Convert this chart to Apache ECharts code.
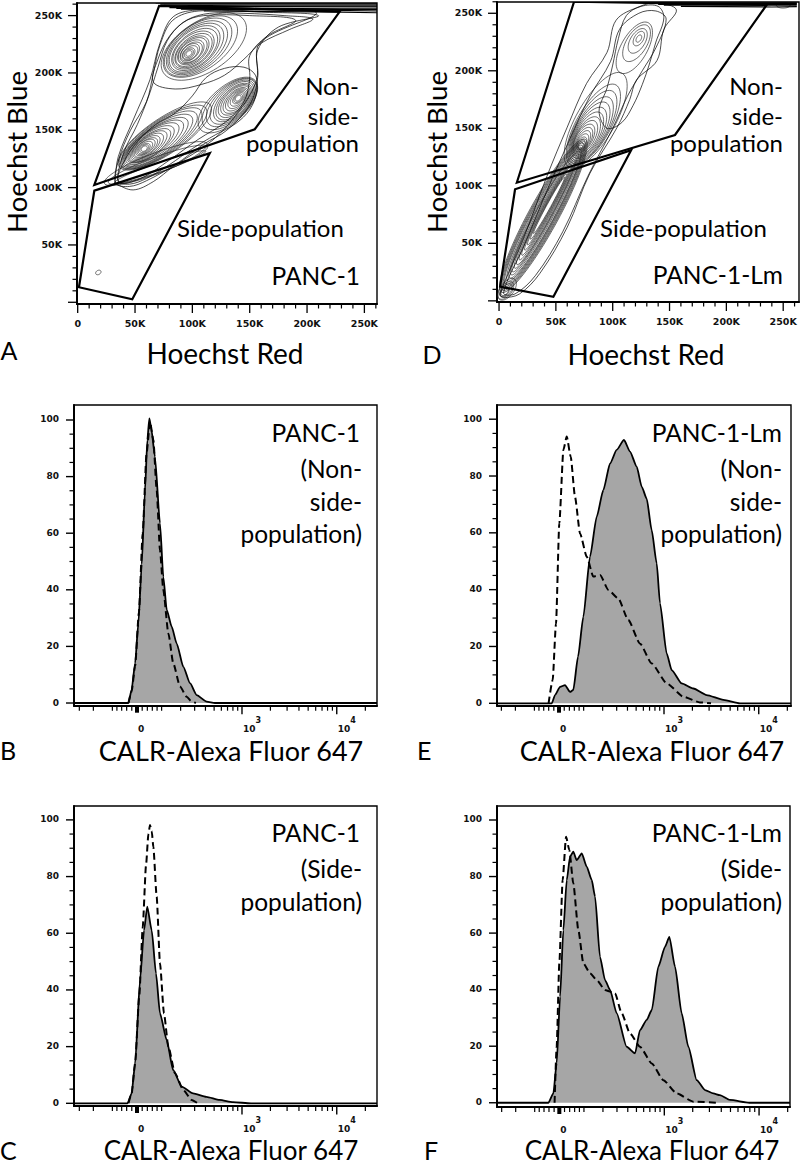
<!DOCTYPE html>
<html><head><meta charset="utf-8">
<script src="https://cdn.jsdelivr.net/npm/echarts@6/dist/echarts.min.js"></script>
<style>html,body{margin:0;padding:0;background:#fff}#c{width:800px;height:1166px}
#c svg text{font-variant-ligatures:none;font-feature-settings:"liga" 0,"clig" 0}</style>
</head><body><div id="c"></div>
<script>
// ================= DATA =================
// Hoechst axes (values in thousands)
const hoechstMajorK = [0, 50, 100, 150, 200, 250];
const hoechstMinorK = [10,20,30,40,60,70,80,90,110,120,130,140,160,170,180,190,210,220,230,240,260];
const hoechstXLabels = ['0','50K','100K','150K','200K','250K'];
const hoechstYLabels = ['','50K','100K','150K','200K','250K'];

// Histogram axes
const pctMajor = [0,20,40,60,80,100];
const pctMinor = [5,10,15,25,30,35,45,50,55,65,70,75,85,90,95];
const pctLabels = ['0','20','40','60','80','100'];
const calrMajorRaw = [0,1000,10000];
const calrLabelBase = ['0','10','10'];
const calrLabelExp = ['','3','4'];
const calrMinorRaw = [-300,-200,-100,-80,-60,-40,-20,20,40,60,80,100,200,300,400,500,600,700,800,900,
  2000,3000,4000,5000,6000,7000,8000,9000,20000];

// Gates (Hoechst Red K, Hoechst Blue K)
const gateNonSP_A = [[14.5,102.3],[71,258.4],[228.5,253.5],[154.4,150.9]];
const gateSP_A    = [[14.5,97.3],[1.1,13.1],[47.6,2.6],[115.2,130]];
const gateNonSP_D = [[15.6,102.7],[66,260],[235.4,257.2],[154.8,144.2]];
const gateSP_D    = [[14.1,97],[0.9,12.3],[47.8,3.6],[116.2,131]];

// Contour rings: [centre Red K, centre Blue K, semi-major K, semi-minor K, angle deg]
const ringsA = [
 // upper population
 [97,217,3,2,40],[97,217,4.5,3,40],[97,217,6,4,40],[98,217.5,7.8,5,40],[98,218,9.5,6,40],[99,218,11.2,7,40],
 [99,218.5,13,8,40],[100,219,15,9,40],[100,219,17,10,40],[101,219.5,19,11.2,40],[101,220,21,12.5,40],
 [102,220.5,23.5,13.7,40],[102,221,26,15,40],[103,221.5,28.5,16.2,39],[104,222,31,17.5,38],
 [105,222.5,34,18.8,37],[107,223,37,20,35],[110,223,42,22,33],
 // middle population
 [140,178,3,2,45],[140,178,4.5,2.8,45],[140,178,6,3.5,45],[139.5,177.5,8,4.5,45],[139,177,10,5.5,45],
 [138.5,176.5,12,6.5,45],[138,176,14,7.5,45],[137.5,176,16,8.5,45],[137,175.5,18,9.5,45],
 [136.5,175,20,10.5,45],[136,175,22,11.5,45],[135,174.5,24.5,12.5,44],[134,174,27,13.5,43],
 [132.5,173,29.5,14.5,42],[131,172,32,15.5,42],
 // lower population
 [58,134,3,2,37],[58,134,4.5,2.7,37],[58,134,6,3.5,37],[58.5,134.5,8,4.2,37],[59,135,10,5,37],
 [59.5,135,12,5.7,37],[60,135.5,14,6.5,37],[61,136,16.5,7.2,37],[62,136.5,19,8,37],[63,137,21.5,8.8,36],
 [64,138,24,9.5,36],[65.5,139,27,10.2,35],[67,139.5,30,11,35],[68.5,140,33,11.8,35],[70,141,36,12.5,35],
 [71.5,142,39,13.3,35],[73,143,42,14,35],[74.5,144,45,14.8,34],[76,145,48,15.5,34],
 [72,118,42,4,19],[70,120,46,7,20],[68,121,48,9,21],
 // isolated event
 [18,26,2.5,1.8,30]
];
const ringsD = [
 // lower band
 [39,74,76,13,61],[39,74,74,12.2,61],[39,74,72,11.5,61],[39,74,70,10.7,61],[39,74,68,10,61],
 [39.5,74.5,65.5,9.2,61],[40,75,63,8.5,61],[40,75.5,60.5,7.7,61],[40,76,58,7,61],[40.5,76.5,55,6.2,61],
 [41,77,52,5.5,61],[41.5,78,48.5,4.7,61],[42,79,45,4,61],[42.5,80,41,3.4,61],[43,81,37,2.8,61],
 [43.5,82,32.5,2.3,61],[44,83,28,1.8,61],
 [5,8,4,2.5,45],[5,8,5,3,45],[6,9,7,4,48],[6,9,9,5,50],[7,10,11,6,52],
 // middle population
 [72,135,3,1.8,60],[72.5,136,4.5,2.6,60],[73,137,6,3.5,60],[73.5,138,8,4.2,60],[74,139,10,5,60],
 [74.5,140,12,6,60],[75,141,14,7,60],[76,142,16.5,8,60],[77,143,19,9,60],[78,144.5,22,10,60],
 [79,146,25,11,60],[80,147.5,28.5,12,60],[81,149,32,13,60],[82,151,36,14,60],[83,153,40,15,60],[85,157,47,17,60],
 // upper population
 [123,228,3.5,2,58],[123,228,7,4,58],[122,226,12,6.5,58],[121,224,18,9,58],[119,220,25,11.5,60],
 [250,257,6,2.5,0]
];
// Irregular outer contours
const contourA1 = [[32.5,105.2],[35.4,127],[48.4,159],[63,194],[71.7,225.9],[83.3,249],[106.5,255],[164.6,253.5],[208.2,252],[158.8,226],[156,194],[141.4,167.7],[118,141.6],[83.3,118.3],[65.9,105.2],[48.4,98],[32.6,103.8]];
const contourA2 = [[33,104],[36,125],[46,150],[60,175],[66,200],[72,225],[83,246],[105,254],[160,253],[210,250],[175,240],[157,220],[157,196],[150,172],[130,150],[110,138],[85,120],[60,106],[45,101]];
const contourA3 = [[35,106],[40,122],[52,140],[68,155],[85,165],[100,180],[112,196],[128,204],[145,205],[155,198],[156,183],[150,168],[138,156],[120,146],[100,134],[80,120],[60,108],[45,103]];
const contourA4 = [[66,192],[70,212],[80,232],[95,246],[115,252],[145,252],[180,250],[205,247],[185,238],[160,226],[145,212],[128,198],[108,190],[85,186]];
const contourA5 = [[36,105],[40,130],[52,155],[62,180],[70,205],[78,228],[92,244],[110,250],[150,250],[190,246],[165,232],[150,215],[150,195],[145,175],[130,158],[105,142],[80,124],[55,108]];
const contourD1 = [[1,6],[21,53],[42,108],[60,151],[77,189],[95,216],[103,244],[124,256],[139,259],[156,253],[145,236],[139,209],[121,192],[115,175],[104,151],[80,111],[60,64],[36,24],[18,6],[4,3]];
const contourD2 = [[4,7],[22,48],[44,100],[62,140],[80,178],[98,208],[106,236],[123,250],[138,252],[147,245],[138,220],[126,200],[113,178],[100,150],[78,108],[56,60],[32,22],[14,6]];
const contourD3 = [[88,165],[95,185],[100,205],[105,228],[112,248],[125,256],[140,256],[145,246],[138,225],[132,205],[126,188],[118,170],[108,155],[95,150]];
// Saturated events along the top edge
const topBandA = [
 [[68,261],[262,261]], [[72,260],[262,260]], [[75,259],[150,258.5],[262,258.5]], [[78,258],[262,257.6]],
 [[80,257],[150,256.5],[230,256],[262,256]], [[86,256.3],[262,255.2]],
 [[90,255.5],[200,255],[262,254]], [[110,254],[230,253],[262,252.5]]
];
const topBandD = [
 [[128,260],[262,260]], [[132,259.2],[262,259.2]], [[135,258.5],[262,258.5]], [[140,257.7],[262,257.7]],
 [[145,257],[262,257]], [[160,256],[240,255.5],[262,255.8]]
];

// Histograms: [CALR display position (biex decades), % of max]
const histB_solid = [[-0.663,0],[-0.09,0],[-0.057,4.6],[-0.02,14],[0.014,28],[0.05,49],[0.084,75],[0.109,93],[0.13,100.6],[0.15,97],[0.189,87],[0.242,63.5],[0.277,44.6],[0.313,32.9],[0.365,27],[0.418,21],[0.488,12.8],[0.558,7],[0.628,2.8],[0.733,0.5],[0.82,0],[2.526,0]];
const histB_dash  = [[-0.09,0],[-0.057,4],[-0.02,13],[0.02,32],[0.06,60],[0.1,88],[0.137,99.4],[0.172,93],[0.207,75.3],[0.242,54],[0.277,40],[0.33,24.6],[0.382,14],[0.453,5.8],[0.523,2.2],[0.575,0.5],[0.62,0]];
const histC_solid = [[-0.663,0],[-0.1,0],[-0.057,3.4],[-0.02,14],[0.032,43.5],[0.074,61],[0.108,69.4],[0.155,61],[0.2,45.8],[0.242,31.7],[0.313,22.3],[0.38,11.8],[0.47,5.9],[0.59,3.5],[0.73,2.3],[0.87,1.2],[1.01,0.4],[1.2,0],[2.526,0]];
const histC_dash  = [[-0.09,0],[-0.057,3.4],[-0.02,14],[0.024,38],[0.06,62],[0.095,84],[0.12,95],[0.137,98.2],[0.155,96],[0.172,90.5],[0.207,72.9],[0.242,49.4],[0.284,31.7],[0.33,20],[0.4,10.6],[0.487,4.7],[0.575,1.2],[0.64,0]];
const histE_solid = [[-0.653,0],[-0.077,0],[-0.042,2.9],[0.011,5.8],[0.063,6.4],[0.116,4],[0.15,4.7],[0.2,16.4],[0.256,30.5],[0.326,51.6],[0.397,65.7],[0.466,75],[0.537,84.4],[0.607,89.2],[0.684,92.7],[0.747,88.6],[0.818,83.3],[0.87,76.3],[0.923,72],[0.975,61],[1.028,49.3],[1.063,35.2],[1.133,17.6],[1.186,11.7],[1.291,7],[1.414,5.2],[1.554,2.9],[1.73,1.2],[1.905,0],[2.442,0]];
const histE_dash  = [[-0.11,0],[-0.067,8.2],[-0.032,28],[0.003,63.4],[0.046,89.2],[0.081,93.9],[0.123,86.8],[0.168,72.7],[0.221,59.8],[0.292,51.6],[0.361,44.6],[0.432,45.2],[0.519,39.9],[0.624,36.9],[0.729,29.3],[0.853,21],[0.976,14],[1.134,7],[1.31,2.3],[1.484,0.3],[1.6,0]];
const histF_solid = [[-0.656,0],[-0.116,0],[-0.063,3.3],[-0.028,14],[0.008,37.5],[0.042,61],[0.078,78.7],[0.113,87],[0.147,88.8],[0.183,85.8],[0.236,88.2],[0.288,83.5],[0.341,78.8],[0.376,72.9],[0.428,51.6],[0.481,43.4],[0.534,39.9],[0.604,31.6],[0.709,19.8],[0.797,17.5],[0.849,25.7],[0.92,29.3],[0.973,32.8],[1.042,48.1],[1.113,55.2],[1.158,58.7],[1.218,48.1],[1.288,31.6],[1.358,19.8],[1.446,8],[1.534,4.5],[1.621,3.3],[1.69,2.7],[1.796,1],[2.0,0],[2.428,0]];
const histF_dash  = [[-0.05,0],[-0.028,19.8],[0,49.3],[0.035,78.8],[0.071,94.1],[0.105,89.4],[0.147,77.6],[0.2,61.1],[0.253,49.3],[0.323,45.8],[0.394,43.4],[0.481,39.9],[0.586,38.7],[0.657,31.6],[0.744,24.5],[0.849,19.8],[0.973,13.9],[1.095,8],[1.236,3.3],[1.41,0.4],[1.65,0]];

// ================= CHART =================
const BIEX_W = 158;
const biex = v => Math.asinh(v / BIEX_W) / Math.LN10;

const chart = echarts.init(document.getElementById('c'), null, {renderer:'svg', width:800, height:1166});

const gridBoxes = [
 {left:77, top:3, width:300, height:301},       // A
 {left:497, top:2, width:302, height:300},      // D
 {left:74, top:405, width:303, height:300.7},   // B
 {left:497, top:405, width:294, height:300.7},  // E
 {left:74, top:806, width:303, height:300},     // C
 {left:497, top:806, width:293, height:301}     // F
];
const xr = [[-0.6,261],[-1.8,263.9],[-0.663,2.526],[-0.653,2.442],[-0.663,2.526],[-0.656,2.428]];
const yr = [[-1.5,261],[-1,259.8],[-0.95,105.3],[-0.85,105],[-0.95,104.9],[-1.5,104.95]];

const grid = gridBoxes.map(g => Object.assign({show:true, borderColor:'#000', borderWidth:1.4, backgroundColor:'transparent'}, g));
const axisBase = {type:'value', axisLine:{show:true, onZero:false, lineStyle:{color:'#000', width:2}},
  axisTick:{show:false}, axisLabel:{show:false}, splitLine:{show:false}};
const xAxis = xr.map((r,i) => Object.assign({}, axisBase, {gridIndex:i, min:r[0], max:r[1]}));
const yAxis = yr.map((r,i) => Object.assign({}, axisBase, {gridIndex:i, min:r[0], max:r[1]}));

const series = [];
const TICKFONT = '"DejaVu Sans", sans-serif';
const SVG_DY = -1;   // small baseline correction for svg text

function tickSer(gi, axis, vals, len, lw) {
  series.push({type:'custom', xAxisIndex:gi, yAxisIndex:gi, silent:true, z:6, clip:false,
    data: vals.map(v => axis === 'x' ? [v, 0] : [0, v]),
    renderItem: (params, api) => {
      const cs = params.coordSys;
      if (axis === 'x') {
        const x = api.coord([api.value(0), 0])[0], y = cs.y + cs.height;
        return {type:'line', shape:{x1:x, y1:y, x2:x, y2:y+len}, style:{stroke:'#000', lineWidth:lw}};
      }
      const y = api.coord([0, api.value(1)])[1], x = cs.x;
      return {type:'line', shape:{x1:x-len, y1:y, x2:x, y2:y}, style:{stroke:'#000', lineWidth:lw}};
    }});
}
function txt(x, y, text, font, align) {
  return {type:'text', x, y: y + SVG_DY, style:{text, fill:'#111', font, textAlign:align, align, textVerticalAlign:'middle', verticalAlign:'middle'}};
}
function xLabelSer(gi, vals, labels, size, dy) {
  series.push({type:'custom', xAxisIndex:gi, yAxisIndex:gi, silent:true, z:6, clip:false,
    data: vals.map(v => [v, 0]),
    renderItem: (params, api) => {
      const cs = params.coordSys;
      const x = api.coord([api.value(0), 0])[0], y = cs.y + cs.height + dy;
      return txt(x, y, labels[params.dataIndex], `bold ${size}px ${TICKFONT}`, 'center');
    }});
}
function yLabelSer(gi, vals, labels, size) {
  series.push({type:'custom', xAxisIndex:gi, yAxisIndex:gi, silent:true, z:6, clip:false,
    data: vals.map(v => [0, v]),
    renderItem: (params, api) => {
      const cs = params.coordSys;
      const y = api.coord([0, api.value(1)])[1];
      return txt(cs.x - 15, y + 0.5, labels[params.dataIndex], `bold ${size}px ${TICKFONT}`, 'right');
    }});
}
function calrLabelSer(gi) {
  series.push({type:'custom', xAxisIndex:gi, yAxisIndex:gi, silent:true, z:6, clip:false,
    data: calrMajorRaw.map(v => [biex(v), 0]),
    renderItem: (params, api) => {
      const cs = params.coordSys, i = params.dataIndex;
      const x = api.coord([api.value(0), 0])[0], y = cs.y + cs.height;
      const kids = [txt(x + 1, y + 24, calrLabelBase[i], `bold 9px ${TICKFONT}`, 'left')];
      if (calrLabelExp[i]) kids.push(txt(x + 13.5, y + 15.5, calrLabelExp[i], `bold 8px ${TICKFONT}`, 'left'));
      return {type:'group', children:kids};
    }});
}
function ringSer(gi, rings) {
  series.push({type:'custom', xAxisIndex:gi, yAxisIndex:gi, silent:true, z:2, clip:true,
    data: rings,
    renderItem: (params, api) => {
      const cx = api.value(0), cy = api.value(1), a = api.value(2), b = api.value(3), th = api.value(4) * Math.PI / 180;
      const pts = [];
      for (let k = 0; k < 64; k++) {
        const t = k / 64 * 2 * Math.PI, dx = a * Math.cos(t), dy = b * Math.sin(t);
        pts.push(api.coord([cx + dx*Math.cos(th) - dy*Math.sin(th), cy + dx*Math.sin(th) + dy*Math.cos(th)]));
      }
      return {type:'polygon', shape:{points:pts}, style:{fill:null, stroke:'#1a1a1a', lineWidth:0.65}};
    }});
}
function polySer(gi, pts, closed, lw, smooth, z) {
  series.push({type:'custom', xAxisIndex:gi, yAxisIndex:gi, silent:true, z:z||2, clip:true,
    data: pts,
    renderItem: (params, api) => {
      if (params.dataIndex !== 0) return null;
      const P = pts.map(p => api.coord(p));
      return {type: closed ? 'polygon' : 'polyline', shape:{points:P, smooth:smooth||0},
        style:{fill:null, stroke:'#000', lineWidth:lw}};
    }});
}
function histSer(gi, solid, dashed) {
  series.push({type:'line', xAxisIndex:gi, yAxisIndex:gi, data:solid, smooth:0.2, smoothMonotone:'x',
    symbol:'none', silent:true, z:3, lineStyle:{color:'#000', width:1.8},
    areaStyle:{color:'#a6a6a6', opacity:1}});
  series.push({type:'line', xAxisIndex:gi, yAxisIndex:gi, data:dashed, smooth:0.2, smoothMonotone:'x',
    symbol:'none', silent:true, z:4, lineStyle:{color:'#000', width:2, type:[7,4]}});
}

// ---- Hoechst panels (grid 0 = A, grid 1 = D)
[[0, ringsA, [contourA1, contourA2, contourA3, contourA4, contourA5], topBandA, gateNonSP_A, gateSP_A],
 [1, ringsD, [contourD1, contourD2, contourD3], topBandD, gateNonSP_D, gateSP_D]].forEach(([gi, rings, conts, band, g1, g2]) => {
  ringSer(gi, rings);
  conts.forEach(c => polySer(gi, c, true, 0.7, 0.35, 2));
  band.forEach(b => polySer(gi, b, false, 1.1, 0, 2));
  polySer(gi, g1, true, 2.2, 0, 5);
  polySer(gi, g2, true, 2.2, 0, 5);
  tickSer(gi, 'x', hoechstMajorK, 9, 1.3);
  tickSer(gi, 'x', hoechstMinorK, 4.5, 1.2);
  tickSer(gi, 'y', hoechstMajorK, 9, 1.3);
  tickSer(gi, 'y', hoechstMinorK, 4.5, 1.2);
  xLabelSer(gi, hoechstMajorK, hoechstXLabels, 9.5, 20);
  yLabelSer(gi, hoechstMajorK, hoechstYLabels, 9.5);
});

// ---- Histogram panels (2 = B, 3 = E, 4 = C, 5 = F)
[[2, histB_solid, histB_dash],[3, histE_solid, histE_dash],[4, histC_solid, histC_dash],[5, histF_solid, histF_dash]]
 .forEach(([gi, s, d]) => {
  histSer(gi, s, d);
  tickSer(gi, 'x', [biex(0)], 7, 4);
  tickSer(gi, 'x', calrMajorRaw.slice(1).map(biex), 8.5, 1.4);
  tickSer(gi, 'x', calrMinorRaw.map(biex), 5, 1.2);
  calrLabelSer(gi);
  tickSer(gi, 'y', pctMajor, 8, 1.4);
  tickSer(gi, 'y', pctMinor, 4.5, 1.2);
  yLabelSer(gi, pctMajor, pctLabels, 9);
});

// ---- Text (y = visual centre of the glyphs)
const F = 'Lato, "Noto Sans", sans-serif';
const TXT_DY = -3;
function T(x, y, text, size, align, rot) {
  const e = {type:'text', x, y: rot ? y : y + TXT_DY, silent:true, z:10,
    style:{text, fill:'#000', font:`${size}px ${F}`, textAlign:align, align, textVerticalAlign:'middle', verticalAlign:'middle'}};
  if (rot) e.rotation = rot;
  return e;
}
const graphic = [
  // A
  T(16, 152, 'Hoechst Blue', 27.5, 'center', Math.PI/2),
  T(225, 356, 'Hoechst Red', 28, 'center'),
  T(9, 353, 'A', 25, 'center'),
  T(359, 88, 'Non-', 24, 'right'), T(359, 118, 'side-', 24, 'right'), T(359, 145, 'population', 24, 'right'),
  T(177, 230, 'Side-population', 24, 'left'),
  T(360, 278, 'PANC-1', 24.5, 'right'),
  // D
  T(436, 152, 'Hoechst Blue', 27.5, 'center', Math.PI/2),
  T(646, 357, 'Hoechst Red', 28, 'center'),
  T(432, 357, 'D', 25, 'center'),
  T(783, 88, 'Non-', 24, 'right'), T(783, 118, 'side-', 24, 'right'), T(783, 145, 'population', 24, 'right'),
  T(600, 230, 'Side-population', 24, 'left'),
  T(783, 277, 'PANC-1-Lm', 24.5, 'right'),
  // B
  T(360, 435, 'PANC-1', 24.5, 'right'), T(362, 471, '(Non-', 24.5, 'right'),
  T(362, 504, 'side-', 24.5, 'right'), T(362, 536, 'population)', 24.5, 'right'),
  T(231, 753, 'CALR-Alexa Fluor 647', 27, 'center'),
  T(0, 753, 'B', 25, 'left'),
  // E
  T(782, 435, 'PANC-1-Lm', 24.5, 'right'), T(782, 471, '(Non-', 24.5, 'right'),
  T(782, 504, 'side-', 24.5, 'right'), T(782, 536, 'population)', 24.5, 'right'),
  T(652, 753, 'CALR-Alexa Fluor 647', 27, 'center'),
  T(417, 753, 'E', 25, 'left'),
  // C
  T(360, 835, 'PANC-1', 24.5, 'right'), T(362, 871, '(Side-', 24.5, 'right'),
  T(362, 904, 'population)', 24.5, 'right'),
  T(231, 1153.3, 'CALR-Alexa Fluor 647', 26, 'center'),
  T(0, 1153.3, 'C', 25, 'left'),
  // F
  T(782, 835, 'PANC-1-Lm', 24.5, 'right'), T(782, 871, '(Side-', 24.5, 'right'),
  T(782, 904, 'population)', 24.5, 'right'),
  T(652, 1153.3, 'CALR-Alexa Fluor 647', 26, 'center'),
  T(424, 1153.3, 'F', 25, 'left')
];

chart.setOption({animation:false, backgroundColor:'#fff', grid, xAxis, yAxis, series, graphic});
</script>
</body></html>
